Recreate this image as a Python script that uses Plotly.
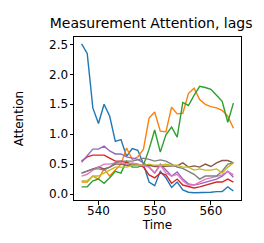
import plotly.graph_objects as go

time = list(range(537, 565))
blue = [2.51, 2.35, 1.44, 1.18, 1.5, 1.3, 0.88, 0.91, 0.63, 0.76, 0.73, 0.5, 0.2, 0.14, 0.38, 0.27, 0.11, 0.2, 0.07, 0.03, 0.02, 0.02, 0.03, 0.03, 0.04, 0.04, 0.12, 0.05]
orange = [0.2, 0.2, 0.3, 0.25, 0.42, 0.3, 0.4, 0.5, 0.77, 0.58, 0.62, 0.75, 1.27, 1.37, 1.05, 1.04, 1.45, 1.34, 1.35, 1.68, 1.77, 1.58, 1.5, 1.46, 1.44, 1.4, 1.3, 1.1]
green = [0.12, 0.12, 0.22, 0.25, 0.18, 0.27, 0.38, 0.35, 0.55, 0.45, 0.45, 0.48, 0.75, 1.07, 0.7, 0.99, 1.12, 0.95, 1.53, 1.48, 1.65, 1.8, 1.78, 1.75, 1.65, 1.55, 1.2, 1.52]
red = [0.55, 0.62, 0.65, 0.65, 0.65, 0.6, 0.55, 0.55, 0.52, 0.5, 0.5, 0.45, 0.32, 0.27, 0.35, 0.32, 0.18, 0.25, 0.15, 0.12, 0.1, 0.12, 0.15, 0.17, 0.2, 0.2, 0.25, 0.2]
purple = [0.53, 0.65, 0.75, 0.75, 0.8, 0.72, 0.67, 0.67, 0.62, 0.6, 0.58, 0.52, 0.45, 0.35, 0.5, 0.4, 0.3, 0.37, 0.25, 0.17, 0.15, 0.17, 0.2, 0.22, 0.25, 0.3, 0.38, 0.28]
brown = [0.35, 0.38, 0.42, 0.45, 0.42, 0.45, 0.5, 0.5, 0.48, 0.48, 0.48, 0.48, 0.48, 0.46, 0.46, 0.46, 0.46, 0.47, 0.52, 0.45, 0.47, 0.45, 0.5, 0.46, 0.52, 0.56, 0.56, 0.52]
pink = [0.3, 0.33, 0.4, 0.45, 0.5, 0.5, 0.52, 0.52, 0.5, 0.52, 0.5, 0.48, 0.45, 0.35, 0.48, 0.35, 0.3, 0.33, 0.22, 0.15, 0.15, 0.2, 0.25, 0.27, 0.3, 0.32, 0.38, 0.32]
gray = [0.35, 0.38, 0.42, 0.42, 0.4, 0.45, 0.52, 0.55, 0.55, 0.55, 0.57, 0.6, 0.58, 0.55, 0.57, 0.55, 0.5, 0.45, 0.43, 0.38, 0.33, 0.25, 0.3, 0.3, 0.3, 0.38, 0.5, 0.52]
olive = [0.22, 0.22, 0.3, 0.3, 0.35, 0.4, 0.45, 0.45, 0.45, 0.48, 0.48, 0.48, 0.5, 0.48, 0.48, 0.5, 0.48, 0.48, 0.45, 0.45, 0.4, 0.42, 0.4, 0.4, 0.42, 0.35, 0.45, 0.52]

series = [blue, orange, green, red, purple, brown, pink, gray, olive]
colors = ["#1f77b4", "#ff7f0e", "#2ca02c", "#d62728", "#9467bd",
          "#8c564b", "#e377c2", "#7f7f7f", "#bcbd22"]

fig = go.Figure()
for vals, c in zip(series, colors):
    fig.add_trace(go.Scatter(x=time, y=vals, mode="lines",
                             line=dict(color=c, width=1.4), showlegend=False))

font12 = dict(family="DejaVu Sans", size=12, color="black")
axis_common = dict(showline=True, linecolor="black", linewidth=1, mirror=True,
                   ticks="outside", ticklen=3.5, tickwidth=1, tickcolor="black",
                   showgrid=False, zeroline=False, tickfont=font12)

fig.update_layout(
    width=264, height=243,
    margin=dict(l=66, r=31, t=29, b=51),
    paper_bgcolor="white", plot_bgcolor="white",
    title=dict(text="Measurement Attention, lags", x=0.462, xref="paper",
               xanchor="center",
               y=1 - 15 / 243, yref="container", yanchor="middle",
               font=dict(family="DejaVu Sans", size=14, color="black")),
    xaxis=dict(range=[535.65, 565.35], tickvals=[540, 550, 560],
               ticklabelstandoff=-4,
               title=dict(text="Time", standoff=1, font=font12),
               **axis_common),
    yaxis=dict(range=[-0.1, 2.625], tickvals=[0, 0.5, 1, 1.5, 2, 2.5],
               ticktext=["0.0", "0.5", "1.0", "1.5", "2.0", "2.5"],
               ticklabelstandoff=-1,
               title=dict(text="Attention", standoff=22, font=font12),
               **axis_common),
)

fig.write_html("out.html")
